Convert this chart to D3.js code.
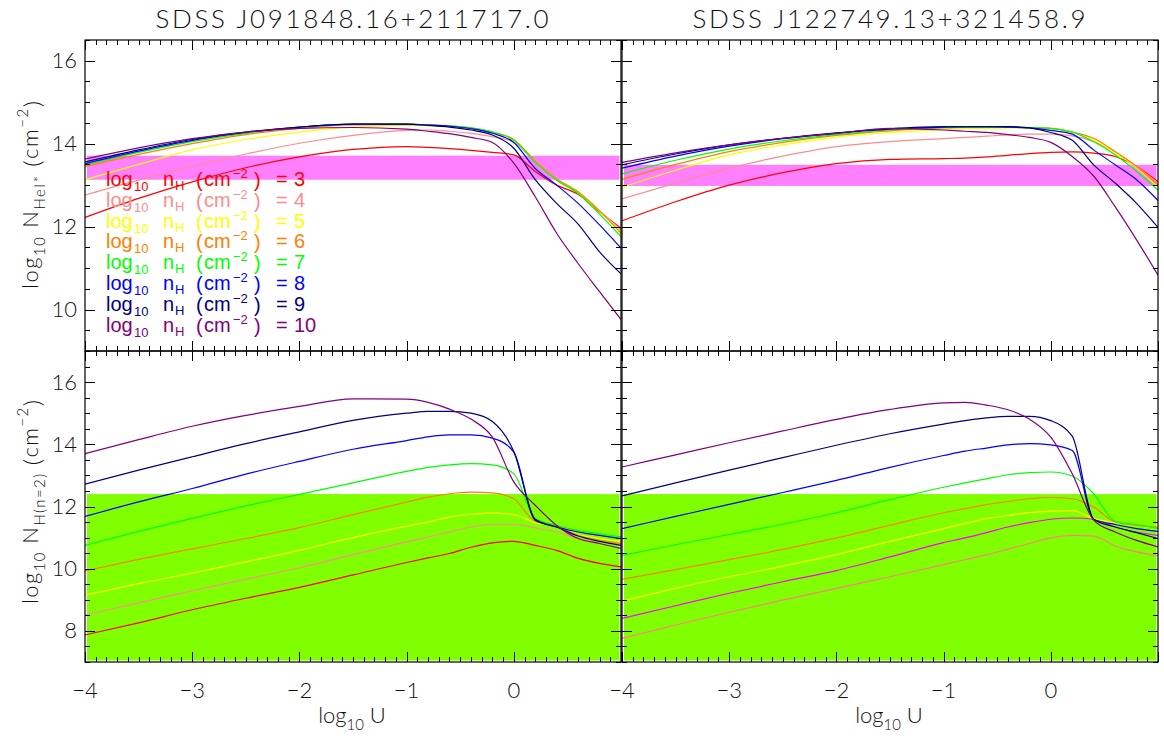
<!DOCTYPE html>
<html><head><meta charset="utf-8">
<script src="https://cdn.jsdelivr.net/npm/d3@7"></script>
<style>html,body{margin:0;padding:0;background:#fff;} svg{display:block;}</style>
</head><body>
<svg id="c" width="1164" height="736"></svg>
<script>
// ---------------- DATA ----------------
const U = [-4,-3.5,-3,-2.5,-2,-1.5,-1,-0.8,-0.6,-0.4,-0.2,0,0.2,0.4,0.6,0.8,1];
const densities = [3,4,5,6,7,8,9,10];
const colors = ["#ff0000","#ff8c8c","#ffff00","#ff8000","#00ff00","#0000ff","#000080","#800080"];
const colorsBR = ["#ff8080","#ff00ff","#ffff00","#ff8000","#00ff00","#0000ff","#000080","#800080"];
const titles = ["SDSS J091848.16+211717.0","SDSS J122749.13+321458.9"];
const xTicksLeft = [-4,-3,-2,-1,0];
const xTicksRight = [-4,-3,-2,-1,0];
const yTicksTop = [10,12,14,16];
const yTicksBottom = [8,10,12,14,16];
const bandHeI = [[13.13,13.71],[12.98,13.49]];
const bandN2 = [[7,12.4],[7,12.4]];

// log N(HeI*) — left object
const heiLeft = [
 [12.22,12.68,13.08,13.42,13.68,13.86,13.93,13.91,13.88,13.84,13.79,13.73,13.33,13.0,12.78,12.36,11.96],
 [12.76,13.12,13.45,13.75,14.01,14.2,14.32,14.33,14.3,14.25,14.17,14.04,13.55,13.12,12.82,12.38,11.92],
 [13.13,13.5,13.85,14.1,14.28,14.4,14.44,14.43,14.41,14.36,14.27,14.08,13.57,13.14,12.83,12.37,11.88],
 [13.45,13.74,14.0,14.22,14.37,14.45,14.46,14.45,14.43,14.38,14.28,14.1,13.58,13.15,12.84,12.38,11.84],
 [13.49,13.79,14.05,14.25,14.39,14.47,14.47,14.45,14.43,14.38,14.28,14.09,13.55,13.12,12.8,12.3,11.76],
 [13.52,13.82,14.08,14.27,14.4,14.47,14.47,14.45,14.42,14.36,14.25,14.03,13.4,13.0,12.56,12.04,11.48],
 [13.56,13.85,14.1,14.28,14.4,14.47,14.47,14.44,14.4,14.33,14.21,13.89,13.13,12.56,12.06,11.39,10.86],
 [13.63,13.9,14.12,14.28,14.37,14.39,14.35,14.3,14.24,14.15,14.03,13.53,12.72,11.84,11.11,10.43,9.76]
];
// log N(HeI*) — right object
const heiRight = [
 [12.14,12.6,13.0,13.3,13.52,13.62,13.64,13.65,13.68,13.72,13.76,13.79,13.8,13.77,13.69,13.45,13.08],
 [12.67,13.05,13.41,13.7,13.93,14.05,14.12,14.15,14.18,14.21,14.23,14.23,14.19,14.05,13.79,13.45,13.05],
 [12.95,13.36,13.73,13.97,14.16,14.27,14.34,14.36,14.37,14.38,14.38,14.36,14.27,14.1,13.78,13.42,12.96],
 [13.14,13.5,13.81,14.03,14.2,14.31,14.38,14.39,14.4,14.4,14.39,14.37,14.28,14.13,13.81,13.45,13.0],
 [13.27,13.6,13.87,14.07,14.22,14.33,14.39,14.4,14.4,14.4,14.39,14.37,14.28,14.05,13.73,13.33,12.88],
 [13.41,13.7,13.94,14.12,14.25,14.35,14.4,14.41,14.41,14.4,14.38,14.32,14.23,13.85,13.49,13.13,12.63],
 [13.49,13.75,13.97,14.13,14.26,14.36,14.41,14.41,14.41,14.41,14.38,14.27,14.08,13.49,13.05,12.56,11.98],
 [13.55,13.78,13.97,14.13,14.25,14.37,14.33,14.3,14.27,14.22,14.15,14.03,13.69,13.22,12.48,11.68,10.83]
];
// log N(H n=2) — left object
const n2Left = [
 [7.87,8.26,8.68,9.05,9.4,9.8,10.2,10.35,10.49,10.69,10.83,10.88,10.75,10.59,10.33,10.17,10.06],
 [8.51,8.9,9.29,9.66,10.03,10.45,10.86,11.02,11.18,11.34,11.43,11.43,11.31,11.18,10.97,10.88,10.81],
 [9.15,9.52,9.86,10.22,10.59,11.0,11.37,11.5,11.66,11.75,11.79,11.74,11.48,11.37,11.1,10.97,10.88],
 [9.93,10.3,10.64,10.97,11.32,11.74,12.14,12.3,12.41,12.46,12.44,12.25,11.52,11.39,11.07,10.91,10.81],
 [10.75,11.2,11.62,12.02,12.39,12.76,13.13,13.26,13.34,13.38,13.34,13.05,11.61,11.39,11.23,11.13,11.02],
 [11.68,12.15,12.58,13.04,13.45,13.84,14.12,14.24,14.3,14.3,14.2,13.75,11.56,11.34,11.18,11.07,10.97],
 [12.72,13.17,13.6,14.02,14.4,14.77,15.0,15.06,15.06,15.0,14.73,13.77,11.59,11.34,11.05,10.88,10.75],
 [13.7,14.15,14.58,14.93,15.22,15.46,15.45,15.35,15.13,14.81,14.23,12.79,12.04,11.39,10.97,10.81,10.65]
];
// log N(H n=2) — right object
const n2Right = [
 [7.76,8.19,8.6,8.99,9.37,9.74,10.13,10.29,10.45,10.63,10.81,10.99,11.07,11.05,10.73,10.54,10.41],
 [8.4,8.81,9.21,9.58,9.94,10.38,10.84,10.99,11.16,11.34,11.48,11.59,11.63,11.59,11.34,11.18,11.07],
 [8.96,9.37,9.74,10.08,10.45,10.88,11.29,11.45,11.61,11.71,11.8,11.85,11.87,11.61,11.48,11.39,11.29],
 [9.66,9.97,10.29,10.62,10.99,11.4,11.8,11.93,12.06,12.16,12.25,12.29,12.25,11.98,11.5,11.39,11.34],
 [10.43,10.77,11.1,11.43,11.8,12.22,12.62,12.76,12.89,13.02,13.09,13.11,12.98,12.41,11.52,11.42,11.29],
 [11.29,11.68,12.07,12.45,12.84,13.26,13.64,13.78,13.88,13.98,14.02,13.98,13.8,11.59,11.42,11.29,11.2],
 [12.34,12.76,13.17,13.57,13.97,14.34,14.65,14.76,14.85,14.9,14.9,14.76,14.26,11.59,11.34,11.16,10.97],
 [13.27,13.66,14.05,14.43,14.8,15.12,15.33,15.35,15.26,15.11,14.81,14.23,13.05,11.56,11.18,10.91,10.7]
];

// ---------------- LAYOUT ----------------
const FONT = "Lato, 'Liberation Sans', Arial, sans-serif";
const LEGFONT = "'Liberation Sans', Arial, sans-serif";
const FW = 300;
const TEXTC = "#111";
const svg = d3.select("#c");
const colX = [[85,621],[622,1158]];
const rowY = [[40,351],[351,662]];
const yDomains = [[9,16.5],[7,17]];

const panels = [
  {col:0,row:0,data:heiLeft,band:bandHeI[0],bandColor:"#ff80ff",cols:colors},
  {col:1,row:0,data:heiRight,band:bandHeI[1],bandColor:"#ff80ff",cols:colors},
  {col:0,row:1,data:n2Left,band:bandN2[0],bandColor:"#80ff00",cols:colors},
  {col:1,row:1,data:n2Right,band:bandN2[1],bandColor:"#80ff00",cols:colorsBR}
];

function richText(g, x, y, parts, size, color, anchor, len) {
  const t = g.append("text").attr("x",x).attr("y",y)
    .attr("font-family",FONT).attr("font-weight",FW).attr("font-size",size).attr("fill",color)
    .attr("text-anchor",anchor||"start");
  if (len) t.attr("textLength",len).attr("lengthAdjust","spacing");
  let off = 0;
  parts.forEach(p => {
    let target = 0, fs = size;
    if (p.sub) { target = size*0.32; fs = size*0.68; }
    if (p.sup) { target = -size*0.45; fs = size*0.68; }
    if (p.big) { target = size*0.12; fs = size*1.1; }
    t.append("tspan").attr("font-size",fs).attr("dy",target-off).text(p.t);
    off = target;
  });
  return t;
}

panels.forEach(p => {
  const [x0,x1] = colX[p.col];
  const [y0,y1] = rowY[p.row];
  const x = d3.scaleLinear().domain([-4,1]).range([x0,x1]);
  const y = d3.scaleLinear().domain(yDomains[p.row]).range([y1,y0]);
  const g = svg.append("g");
  // band
  g.append("rect").attr("x",x(-4)+2).attr("width",x(1)-x(-4)-3.5)
    .attr("y",y(p.band[1])).attr("height",Math.min(y(p.band[0]),y1-1.5)-y(p.band[1]))
    .attr("fill",p.bandColor);
  // lines
  const line = d3.line().x((d,i)=>x(U[i])).y(d=>y(d)).curve(d3.curveMonotoneX);
  const clip = "clip"+p.col+p.row;
  svg.append("clipPath").attr("id",clip).append("rect").attr("x",x0).attr("y",y0).attr("width",x1-x0).attr("height",y1-y0);
  const lg = g.append("g").attr("clip-path","url(#"+clip+")");
  p.data.forEach((s,i) => {
    lg.append("path").attr("d",line(s)).attr("fill","none")
      .attr("stroke",p.cols[i]).attr("stroke-width",1.2);
  });
  // frame
  g.append("rect").attr("x",x0).attr("y",y0).attr("width",x1-x0).attr("height",y1-y0)
    .attr("fill","none").attr("stroke","#000").attr("stroke-width",1.2);
  // x ticks
  const minorX = d3.range(-40,11).map(v=>v/10);
  minorX.forEach(v => {
    const major = Math.abs(v-Math.round(v))<1e-9;
    const L = major?10:5;
    const xx = Math.round(x(v))+0.5;
    g.append("line").attr("x1",xx).attr("x2",xx).attr("y1",y1).attr("y2",y1-L).attr("stroke","#000").attr("stroke-width",1);
    g.append("line").attr("x1",xx).attr("x2",xx).attr("y1",y0).attr("y2",y0+L).attr("stroke","#000").attr("stroke-width",1);
  });
  // y ticks
  const yd = yDomains[p.row];
  const minorY = d3.range(Math.ceil(yd[0]*2), Math.floor(yd[1]*2)+1).map(v=>v/2);
  minorY.forEach(v => {
    const major = Math.abs(v/2-Math.round(v/2))<1e-9;
    const L = major?10:5;
    const yy = Math.round(y(v))+0.5;
    g.append("line").attr("x1",x0).attr("x2",x0+L).attr("y1",yy).attr("y2",yy).attr("stroke","#000").attr("stroke-width",1);
    g.append("line").attr("x1",x1).attr("x2",x1-L).attr("y1",yy).attr("y2",yy).attr("stroke","#000").attr("stroke-width",1);
  });
  if (p.col===0) {
    const yt = p.row===0?yTicksTop:yTicksBottom;
    yt.forEach(v => {
      svg.append("text").attr("x",x0-8).attr("y",y(v)+7.5).attr("text-anchor","end")
        .attr("font-family",FONT).attr("font-weight",FW).attr("font-size",22).attr("fill",TEXTC).text(v);
    });
  }
  if (p.row===1) {
    const xt = p.col===0?xTicksLeft:xTicksRight;
    xt.forEach(v => {
      svg.append("text").attr("x",x(v)).attr("y",698).attr("text-anchor","middle")
        .attr("font-family",FONT).attr("font-weight",FW).attr("font-size",22).attr("fill",TEXTC)
        .text(v<0?"\u2212"+Math.abs(v):String(v));
    });
    richText(svg,(x0+x1)/2-1,723,[{t:"log"},{t:"10",sub:true},{t:" U"}],22,TEXTC,"middle");
  }
  if (p.row===0) {
    svg.append("text").attr("x",(x0+x1)/2-1).attr("y",28).attr("text-anchor","middle")
      .attr("font-family",FONT).attr("font-weight",FW)
      .attr("font-size",26).attr("fill",TEXTC)
      .attr("textLength",393).attr("lengthAdjust","spacing").text(titles[p.col]);
  }
});

// Y axis titles
const ytg1 = svg.append("g").attr("transform","translate(38,195) rotate(-90)");
richText(ytg1,0,0,[{t:"log"},{t:"10",sub:true},{t:" N"},{t:"HeI*",sub:true},{t:" "},{t:"(",big:true},{t:"cm"},{t:"\u22122",sup:true},{t:")",big:true}],22,TEXTC,"middle",188);
const ytg2 = svg.append("g").attr("transform","translate(38,502) rotate(-90)");
richText(ytg2,0,0,[{t:"log"},{t:"10",sub:true},{t:" N"},{t:"H(n=2)",sub:true},{t:" "},{t:"(",big:true},{t:"cm"},{t:"\u22122",sup:true},{t:")",big:true}],22,TEXTC,"middle",204);

// Legend: pieces at fixed offsets from x=106
const legPieces = [
  {t:"log", dx:0, size:20, dy:0},
  {t:"10", dx:28, size:13, dy:5},
  {t:"n", dx:57, size:20, dy:0},
  {t:"H", dx:69, size:13, dy:4},
  {t:"(", dx:90, size:20, dy:1},
  {t:"cm", dx:98, size:20, dy:0},
  {t:"\u22122", dx:127, size:13, dy:-8},
  {t:")", dx:148, size:20, dy:1},
  {t:"=", dx:170, size:20, dy:0}
];
const legNumX = 188;
densities.forEach((d,i) => {
  const by = 186 + i*20.8;
  const gl = svg.append("g").attr("fill",colors[i]).attr("font-family",LEGFONT);
  legPieces.forEach(pc => {
    gl.append("text").attr("x",106+pc.dx).attr("y",by+pc.dy).attr("font-size",pc.size).text(pc.t);
  });
  gl.append("text").attr("x",106+legNumX).attr("y",by).attr("font-size",20).text(String(d));
});
</script>
</body></html>
